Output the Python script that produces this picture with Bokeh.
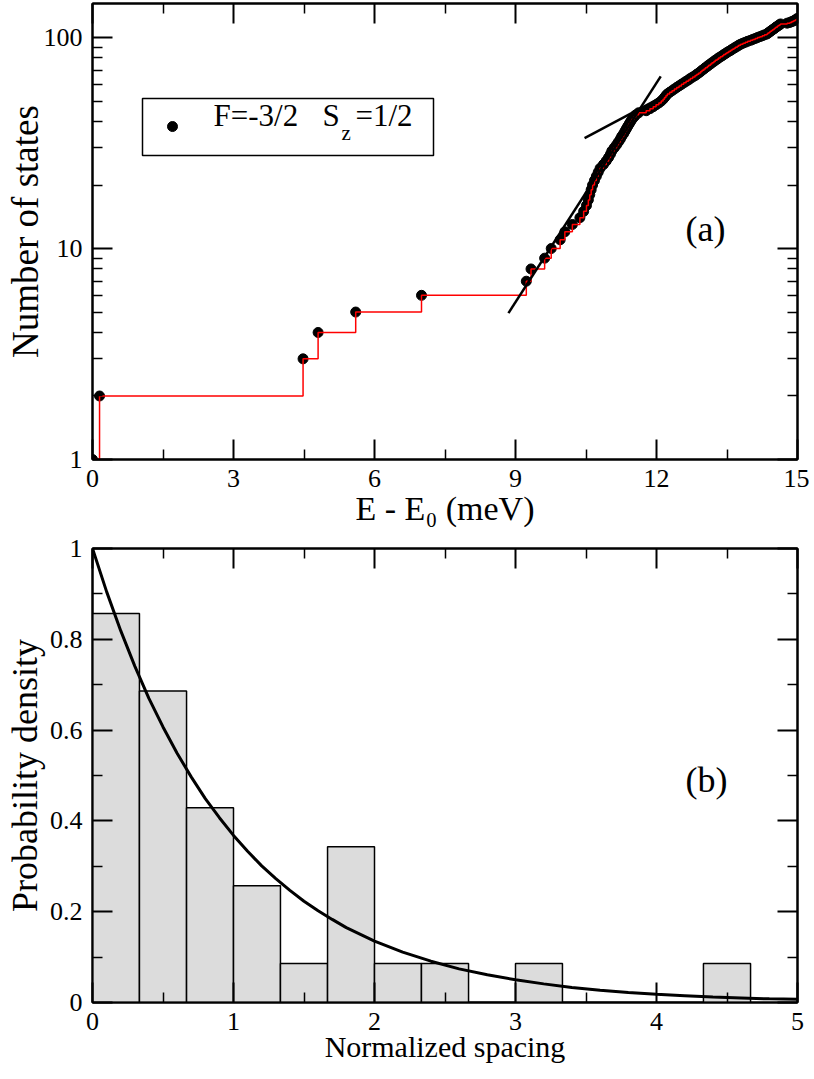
from bokeh.plotting import figure
from bokeh.models import (Range1d, FixedTicker, LinearAxis, LogAxis, Label, BoxAnnotation,
                          CustomJSTickFormatter)
from bokeh.layouts import column
from bokeh.embed import file_html
from bokeh.resources import INLINE

# ---------------- data, panel (a): cumulative number of states ----------------
energies = [0.0, 0.15, 4.48, 4.80, 5.60, 7.00, 9.23, 9.33, 9.62, 9.76,
            9.95, 10.05, 10.21, 10.37, 10.45, 10.51, 10.55, 10.58, 10.61, 10.64,
            10.68, 10.72, 10.76, 10.80, 10.87, 10.93, 10.98, 11.02, 11.05, 11.10,
            11.15, 11.19, 11.23, 11.26, 11.30, 11.33, 11.36, 11.39, 11.42, 11.45,
            11.48, 11.52, 11.56, 11.62, 11.78, 11.86, 11.93, 11.99, 12.05, 12.10,
            12.14, 12.17, 12.20, 12.23, 12.28, 12.33, 12.38, 12.43, 12.48, 12.53,
            12.58, 12.63, 12.68, 12.72, 12.77, 12.82, 12.86, 12.90, 12.94, 12.97,
            13.01, 13.04, 13.08, 13.11, 13.15, 13.18, 13.22, 13.25, 13.29, 13.32,
            13.36, 13.40, 13.43, 13.47, 13.50, 13.54, 13.58, 13.61, 13.65, 13.68,
            13.72, 13.75, 13.79, 13.84, 13.89, 13.94, 14.00, 14.05, 14.10, 14.15,
            14.20, 14.25, 14.30, 14.35, 14.37, 14.40, 14.42, 14.45, 14.47, 14.50,
            14.52, 14.54, 14.57, 14.59, 14.62, 14.64, 14.78, 14.84, 14.88, 14.92,
            14.95, 14.98, 14.99]
n_states = list(range(1, len(energies) + 1))

fit1_E = [8.85, 12.09]
fit1_N = [4.94, 65.5]
fit2_E = [10.47, 12.10]
fit2_N = [33.4, 52.0]

legend_text = "F=-3/2"

# ---------------- data, panel (b): spacing histogram ----------------
bin_left = [0.0, 0.333, 0.667, 1.0, 1.333, 1.667, 2.0, 2.333, 2.667, 3.0, 3.333, 3.667, 4.0, 4.333]
bin_right = [0.333, 0.667, 1.0, 1.333, 1.667, 2.0, 2.333, 2.667, 3.0, 3.333, 3.667, 4.0, 4.333, 4.667]
density = [0.857, 0.686, 0.429, 0.257, 0.086, 0.343, 0.086, 0.086, 0.0, 0.086, 0.0, 0.0, 0.0, 0.086]

curve_s = [0.0, 0.1, 0.2, 0.3, 0.4, 0.5, 0.6, 0.7, 0.8, 0.9, 1.0, 1.1, 1.2, 1.3, 1.4, 1.5,
           1.6, 1.7, 1.8, 1.9, 2.0, 2.2, 2.4, 2.6, 2.8, 3.0, 3.2, 3.4, 3.6, 3.8, 4.0,
           4.2, 4.4, 4.6, 4.8, 5.0]
curve_p = [1.000, 0.905, 0.819, 0.741, 0.670, 0.607, 0.549, 0.497, 0.449, 0.407, 0.368, 0.333,
           0.301, 0.273, 0.247, 0.223, 0.202, 0.183, 0.165, 0.150, 0.135, 0.111, 0.091, 0.074,
           0.061, 0.050, 0.041, 0.033, 0.027, 0.022, 0.018, 0.015, 0.012, 0.010, 0.008, 0.007]

FONT = "Liberation Serif"


def style_axis(ax, labels=True):
    ax.axis_line_width = 2
    ax.axis_line_color = "black"
    ax.major_tick_in = 20
    ax.major_tick_out = 0
    ax.minor_tick_in = 10
    ax.minor_tick_out = 0
    ax.major_tick_line_width = 2
    ax.minor_tick_line_width = 1.5
    ax.major_tick_line_color = "black"
    ax.minor_tick_line_color = "black"
    ax.major_label_text_font = FONT
    ax.major_label_text_color = "black"
    ax.axis_label_text_font = FONT
    ax.axis_label_text_font_style = "normal"
    ax.axis_label_text_color = "black"
    if labels:
        ax.major_label_text_font_size = "26px"
        ax.major_label_standoff = 10
    else:
        ax.formatter = CustomJSTickFormatter(code="return ''")
        ax.major_label_text_font_size = "2px"
        ax.major_label_standoff = 0


# ---------------- panel (a) ----------------
p1 = figure(frame_width=705, frame_height=456, y_axis_type="log",
            x_range=Range1d(0, 15), y_range=Range1d(1, 145),
            output_backend="svg", toolbar_location=None,
            min_border_left=92, min_border_right=12, min_border_top=3, min_border_bottom=0,
            background_fill_color="white", border_fill_color="white")
p1.xgrid.visible = False
p1.ygrid.visible = False
p1.outline_line_color = "black"
p1.outline_line_width = 2

xt1 = FixedTicker(ticks=[0, 3, 6, 9, 12, 15], minor_ticks=[1.5, 4.5, 7.5, 10.5, 13.5])
yt1 = FixedTicker(ticks=[1, 10, 100],
                  minor_ticks=[2, 3, 4, 5, 6, 7, 8, 9, 20, 30, 40, 50, 60, 70, 80, 90])
p1.xaxis[0].ticker = xt1
p1.yaxis[0].ticker = yt1
p1.yaxis[0].major_label_overrides = {1: "1", 10: "10", 100: "100"}
style_axis(p1.xaxis[0])
style_axis(p1.yaxis[0])
p1.yaxis[0].axis_label = "Number of states"
p1.yaxis[0].axis_label_text_font_size = "37px"
p1.yaxis[0].axis_label_standoff = -5
p1.xaxis[0].axis_label = "E - E\u2080 (meV)"
p1.xaxis[0].axis_label_text_font_size = "34px"
p1.xaxis[0].axis_label_standoff = 0
top1 = LinearAxis(ticker=xt1)
right1 = LogAxis(ticker=yt1)
style_axis(top1, labels=False)
style_axis(right1, labels=False)
p1.add_layout(top1, "above")
p1.add_layout(right1, "right")


def ex(px):
    return (px - 92) / 47.0


def ny(py):
    return 10 ** ((459 - py) / 211.0)


box = BoxAnnotation(left=ex(142), right=ex(433), top=ny(98), bottom=ny(155),
                    fill_color="white", fill_alpha=1.0, line_color="black", line_alpha=1.0,
                    line_width=1.5, level="underlay")
p1.add_layout(box)

p1.scatter(energies, n_states, size=10, color="black")
p1.step(energies, n_states, mode="after", line_color="red", line_width=1.5)
p1.line(fit1_E, fit1_N, line_color="black", line_width=2.5)
p1.line(fit2_E, fit2_N, line_color="black", line_width=2.5)
p1.scatter([ex(172)], [ny(126)], size=10, color="black")

p1.add_layout(Label(x=ex(213), y=ny(132), text=legend_text, text_font=FONT,
                    text_font_size="31px", text_color="black"))
p1.add_layout(Label(x=ex(322), y=ny(132), text="S", text_font=FONT,
                    text_font_size="31px", text_color="black"))
p1.add_layout(Label(x=ex(341), y=ny(144), text="z", text_font=FONT,
                    text_font_size="21px", text_color="black"))
p1.add_layout(Label(x=ex(355), y=ny(132), text="=1/2", text_font=FONT,
                    text_font_size="31px", text_color="black"))
p1.add_layout(Label(x=ex(685), y=ny(248), text="(a)", text_font=FONT,
                    text_font_size="36px", text_color="black"))

# ---------------- panel (b) ----------------
p2 = figure(frame_width=705, frame_height=454,
            x_range=Range1d(0, 5), y_range=Range1d(0, 1),
            output_backend="svg", toolbar_location=None,
            min_border_left=92, min_border_right=12, min_border_top=19, min_border_bottom=0,
            background_fill_color="white", border_fill_color="white")
p2.xgrid.visible = False
p2.ygrid.visible = False
p2.outline_line_color = "black"
p2.outline_line_width = 2

xt2 = FixedTicker(ticks=[0, 1, 2, 3, 4, 5], minor_ticks=[0.5, 1.5, 2.5, 3.5, 4.5])
yt2 = FixedTicker(ticks=[0, 0.2, 0.4, 0.6, 0.8, 1], minor_ticks=[0.1, 0.3, 0.5, 0.7, 0.9])
p2.xaxis[0].ticker = xt2
p2.yaxis[0].ticker = yt2
p2.yaxis[0].major_label_overrides = {0: "0", 0.2: "0.2", 0.4: "0.4", 0.6: "0.6", 0.8: "0.8", 1: "1"}
style_axis(p2.xaxis[0])
style_axis(p2.yaxis[0])
p2.yaxis[0].axis_label = "Probability density"
p2.yaxis[0].axis_label_text_font_size = "36px"
p2.yaxis[0].axis_label_standoff = 2
p2.xaxis[0].axis_label = "Normalized spacing"
p2.xaxis[0].axis_label_text_font_size = "30px"
p2.xaxis[0].axis_label_standoff = -3
top2 = LinearAxis(ticker=xt2)
right2 = LinearAxis(ticker=yt2)
style_axis(top2, labels=False)
style_axis(right2, labels=False)
p2.add_layout(top2, "above")
p2.add_layout(right2, "right")

p2.quad(left=bin_left, right=bin_right, bottom=0, top=density,
        fill_color="#dcdcdc", line_color="black", line_width=1.5)
p2.line(curve_s, curve_p, line_color="black", line_width=3)


def sx(px):
    return (px - 92) / 141.0


def sy(py):
    return (1003 - py) / 454.0


p2.add_layout(Label(x=sx(685), y=sy(800), text="(b)", text_font=FONT,
                    text_font_size="36px", text_color="black"))

layout = column(p1, p2, spacing=0)
open("out.html", "w").write(file_html(layout, INLINE))
